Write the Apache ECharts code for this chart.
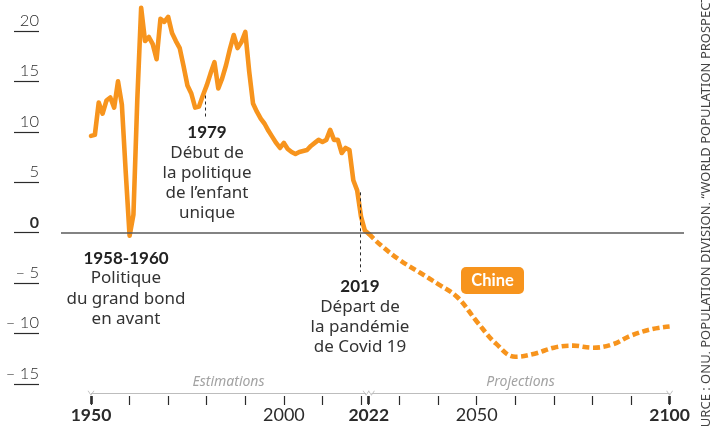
<!DOCTYPE html>
<html>
<head>
<meta charset="utf-8">
<script src="https://cdn.jsdelivr.net/npm/echarts@6/dist/echarts.min.js"></script>
<style>
  html, body { margin: 0; padding: 0; background: #fff; }
  #chart { width: 710px; height: 428px; }
</style>
</head>
<body>
<div id="chart"></div>
<script>
// Estimations 1950-2022 (taux d'accroissement naturel, pour 1000)
const histYears = [
  1950, 1951, 1952, 1953, 1954, 1955, 1956, 1957, 1958, 1959,
  1960, 1961, 1962, 1963, 1964, 1965, 1966, 1967, 1968, 1969,
  1970, 1971, 1972, 1973, 1974, 1975, 1976, 1977, 1978, 1979,
  1980, 1981, 1982, 1983, 1984, 1985, 1986, 1987, 1988, 1989,
  1990, 1991, 1992, 1993, 1994, 1995, 1996, 1997, 1998, 1999,
  2000, 2001, 2002, 2003, 2004, 2005, 2006, 2007, 2008, 2009,
  2010, 2011, 2012, 2013, 2014, 2015, 2016, 2017, 2018, 2019,
  2020, 2021, 2022
]
const histValues = [
  9.6, 9.7, 12.9, 11.8, 13.1, 13.4, 12.4, 15.0, 12.7, 6.0,
  -0.3, 1.8, 13.2, 22.3, 19.0, 19.4, 18.7, 17.2, 21.2, 20.9,
  21.4, 19.8, 19.0, 18.3, 16.5, 14.6, 13.8, 12.4, 12.5, 13.6,
  14.6, 15.8, 16.9, 14.3, 15.3, 16.6, 18.2, 19.6, 18.3, 18.9,
  19.9, 16.0, 12.8, 12.0, 11.3, 10.8, 10.1, 9.5, 8.9, 8.4,
  8.9, 8.3, 8.0, 7.8, 8.0, 8.1, 8.2, 8.6, 8.9, 9.2,
  9.0, 9.2, 10.2, 9.2, 9.2, 7.9, 8.4, 8.2, 5.2, 4.2,
  1.6, 0.2, -0.1
]
// Projections 2022-2100
const projYears = [2022, 2025, 2030, 2035, 2040, 2045, 2050, 2055, 2060, 2065, 2070, 2075, 2080, 2085, 2090, 2095, 2100]
const projValues = [-0.1, -1.2, -2.7, -3.9, -5.1, -6.4, -8.8, -11.0, -12.3, -12.0, -11.4, -11.2, -11.4, -11.1, -10.2, -9.6, -9.3]

// axes
const tickYears = [1950, 1960, 1970, 1980, 1990, 2000, 2010, 2020, 2022, 2030, 2040, 2050, 2060, 2070, 2080, 2090, 2100]
const boldTickYears = [1950, 2022, 2100]
const labelYears = [1950, 2000, 2022, 2050, 2100]
const boldLabelYears = [1950, 2022, 2100]

const X_MIN = 1942.22
const X_MAX = 2103.73
const Y_MIN = -16.19
const Y_MAX = 23.07
const ORANGE = '#f7941d'
const INK = '#2b2b2b'
const BODY_FONT = '17px "Noto Sans"'
const HEAD_FONT = 'bold 17px Lato'

const chart = echarts.init(document.getElementById('chart'), null, { renderer: 'canvas' })

const zip = (xs, ys) => xs.map((x, i) => [x, ys[i]])
const arrowLeft = 'path://M10,0 L0,5 L10,10 L10,8.6 L2.6,5 L10,1.4 Z'
const arrowRight = 'path://M0,0 L10,5 L0,10 L0,8.6 L7.4,5 L0,1.4 Z'
const periodLabel = text => ({
  show: true, position: 'middle', formatter: text,
  fontFamily: 'Noto Sans', fontStyle: 'italic', fontSize: 14, color: '#a3a3a3', distance: 4
})

const option = {
  animation: false,
  grid: [
    { left: 61, right: 26, top: 0, bottom: 32 },
    { left: 39, width: 1, top: 31, bottom: 44 }
  ],
  xAxis: [
    {
      gridIndex: 0, type: 'value', min: X_MIN, max: X_MAX, position: 'bottom',
      axisLine: { show: false, onZero: false }, splitLine: { show: false },
      axisTick: { show: true, customValues: tickYears, length: 9, lineStyle: { color: INK, width: 1.2 } },
      axisLabel: {
        customValues: labelYears, margin: 10,
        formatter: v => (boldLabelYears.includes(v) ? '{b|' + v + '}' : '{n|' + v + '}'),
        rich: {
          b: { fontFamily: 'Lato', fontWeight: 'bold', fontSize: 17.5, color: INK },
          n: { fontFamily: 'Lato', fontSize: 18, color: INK }
        }
      }
    },
    {
      gridIndex: 0, type: 'value', min: X_MIN, max: X_MAX, position: 'bottom',
      axisLine: { show: false, onZero: false }, splitLine: { show: false }, axisLabel: { show: false },
      axisTick: { show: true, customValues: boldTickYears, length: 8, lineStyle: { color: INK, width: 2.6 } }
    },
    { gridIndex: 1, type: 'value', show: false }
  ],
  yAxis: [
    { gridIndex: 0, type: 'value', min: Y_MIN, max: Y_MAX, show: false },
    {
      gridIndex: 1, type: 'value', min: -15, max: 20, interval: 5, position: 'left',
      axisLine: { show: false }, splitLine: { show: false },
      axisTick: { show: true, length: 25, inside: false, lineStyle: { color: INK, width: 1.2 } },
      axisLabel: {
        margin: 0, align: 'right', verticalAlign: 'bottom', padding: [0, 0, 2, 0],
        formatter: v => (v === 0 ? '{z|0}' : v < 0 ? '{n|– ' + (-v) + '}' : '{n|' + v + '}'),
        rich: {
          z: { fontFamily: 'Lato', fontWeight: 'bold', fontSize: 16, color: INK },
          n: { fontFamily: 'Lato', fontWeight: 300, fontSize: 16.5, color: INK }
        }
      }
    }
  ],
  series: [
    {
      // ligne du zéro + flèches estimations / projections
      type: 'line', xAxisIndex: 0, yAxisIndex: 0, data: [], z: 1,
      markLine: {
        silent: true, animation: false,
        symbol: ['none', 'none'],
        label: { show: false },
        lineStyle: { color: '#5a5a5a', width: 1.5, type: 'solid' },
        data: [
          [{ coord: [X_MIN, 0] }, { coord: [X_MAX, 0] }],
          [
            { coord: [1950, -15.92], symbol: arrowLeft, symbolSize: [5, 7], lineStyle: { color: '#bdbdbd', width: 1.2 }, label: periodLabel('Estimations') },
            { coord: [2021.3, -15.92], symbol: arrowRight, symbolSize: [5, 7] }
          ],
          [
            { coord: [2022.7, -15.92], symbol: arrowLeft, symbolSize: [5, 7], lineStyle: { color: '#bdbdbd', width: 1.2 }, label: periodLabel('Projections') },
            { coord: [2100, -15.92], symbol: arrowRight, symbolSize: [5, 7] }
          ]
        ]
      }
    },
    {
      name: 'Chine estimations',
      type: 'line', xAxisIndex: 0, yAxisIndex: 0, z: 3,
      data: zip(histYears, histValues),
      symbol: 'none', smooth: false,
      lineStyle: { color: ORANGE, width: 4.6, join: 'round', cap: 'round' },
      markLine: {
        silent: true, animation: false, symbol: ['none', 'none'], label: { show: false },
        lineStyle: { color: INK, width: 1, type: [3, 3] },
        data: [
          [{ coord: [1979.7, 13.6] }, { coord: [1979.7, 11.4] }],
          [{ coord: [2019.7, 4.0] }, { coord: [2019.7, -3.9] }]
        ]
      }
    },
    {
      name: 'Chine projections',
      type: 'line', xAxisIndex: 0, yAxisIndex: 0, z: 3,
      data: zip(projYears, projValues),
      symbol: 'none', smooth: 0.4,
      lineStyle: { color: ORANGE, width: 4.6, type: [7, 3.5] }
    }
  ],
  graphic: [
    // 1979
    { type: 'text', x: 207, y: 133, style: { text: '1979', font: HEAD_FONT, fill: '#222', align: 'center', verticalAlign: 'middle' } },
    { type: 'text', x: 207, y: 143, style: { text: 'Début de\nla politique\nde l’enfant\nunique', font: BODY_FONT, lineHeight: 20, fill: '#333', align: 'center', verticalAlign: 'top' } },
    // 1958-1960
    { type: 'text', x: 126, y: 259, style: { text: '1958-1960', font: HEAD_FONT, fill: '#222', align: 'center', verticalAlign: 'middle' } },
    { type: 'text', x: 126, y: 268, style: { text: 'Politique\ndu grand bond\nen avant', font: BODY_FONT, lineHeight: 20.5, fill: '#333', align: 'center', verticalAlign: 'top' } },
    // 2019
    { type: 'text', x: 360, y: 287, style: { text: '2019', font: HEAD_FONT, fill: '#222', align: 'center', verticalAlign: 'middle' } },
    { type: 'text', x: 360, y: 297, style: { text: 'Départ de\nla pandémie\nde Covid 19', font: BODY_FONT, lineHeight: 20, fill: '#333', align: 'center', verticalAlign: 'top' } },
    // étiquette Chine
    { type: 'rect', shape: { x: 461, y: 267, width: 63, height: 27, r: 5 }, style: { fill: ORANGE } },
    { type: 'text', x: 492.5, y: 281, style: { text: 'Chine', font: 'bold 16.5px Lato', fill: '#fff', align: 'center', verticalAlign: 'middle' } },
    // source
    { type: 'text', x: 706, y: 214, rotation: Math.PI / 2, style: { text: 'SOURCE : ONU, POPULATION DIVISION, “WORLD POPULATION PROSPECTS”', font: '13px "Noto Sans"', fill: '#444', align: 'center', verticalAlign: 'middle' } }
  ]
}

chart.setOption(option)
</script>
</body>
</html>
